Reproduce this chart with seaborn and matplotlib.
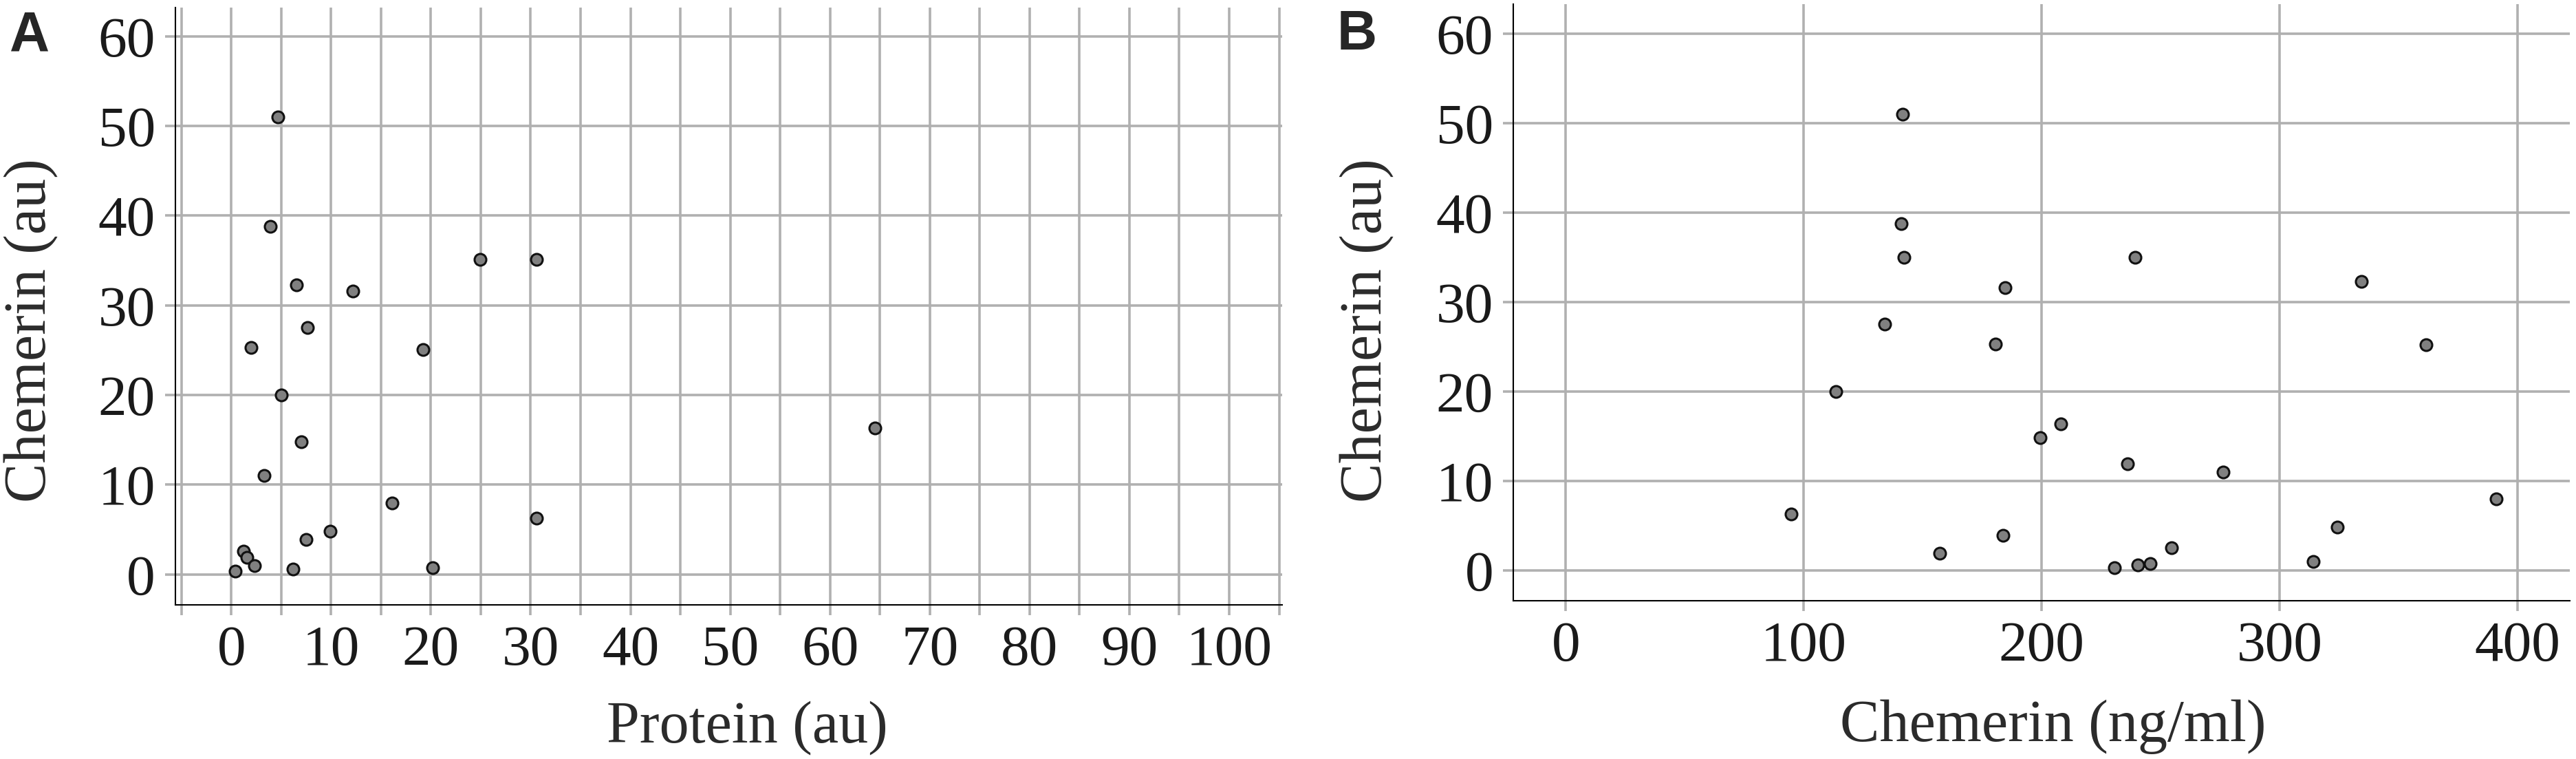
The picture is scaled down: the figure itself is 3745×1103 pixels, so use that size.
import numpy as np
import pandas as pd
import matplotlib
matplotlib.use('Agg')
import matplotlib.pyplot as plt
import seaborn as sns
from matplotlib.ticker import MultipleLocator

# Painel A: proteína (au) vs chemerin (au)
protein_au = [4.7, 3.9, 24.9, 30.6, 6.5, 12.2, 7.6, 2.0, 19.2, 5.0, 64.5, 7.0,
              3.3, 16.1, 30.6, 9.9, 7.5, 1.2, 1.6, 2.3, 0.4, 6.2, 20.2]
chemerin_au_a = [51.0, 38.8, 35.1, 35.1, 32.3, 31.6, 27.5, 25.3, 25.1, 20.0, 16.3, 14.8,
                 11.0, 7.95, 6.3, 4.8, 3.9, 2.6, 1.9, 0.95, 0.35, 0.55, 0.75]

# Painel B: chemerin (ng/ml) vs chemerin (au)
chemerin_ngml = [141.6, 141.1, 142.2, 134.1, 113.4, 94.8, 157.3, 184.6, 180.6, 183.8,
                 199.3, 208.0, 230.5, 236.1, 239.3, 240.5, 245.7, 254.5, 276.3, 314.1,
                 324.3, 334.4, 361.5, 391.0]
chemerin_au_b = [51.0, 38.8, 35.0, 27.5, 20.0, 6.3, 1.9, 31.6, 25.3, 3.9,
                 14.8, 16.35, 0.3, 11.9, 35.0, 0.6, 0.75, 2.5, 11.0, 1.0,
                 4.8, 32.3, 25.2, 8.0]

df_a = pd.DataFrame({'Protein (au)': protein_au, 'Chemerin (au)': chemerin_au_a})
df_b = pd.DataFrame({'Chemerin (ng/ml)': chemerin_ngml, 'Chemerin (au)': chemerin_au_b})

sns.set_style('white')
plt.rcParams['font.family'] = ['Liberation Serif', 'DejaVu Serif']

grid_color = '#b0b0b0'
tick_color = '#1a1a1a'
label_color = '#2b2b2b'

fig = plt.figure(figsize=(37.45, 11.03), dpi=100)
ax1 = fig.add_axes([0.0681, 0.2031, 0.4296, 0.787])
ax2 = fig.add_axes([0.5875, 0.2085, 0.4101, 0.786])

# Dispersão
sns.scatterplot(x='Protein (au)', y='Chemerin (au)', data=df_a, ax=ax1,
                s=150, color='#808080', edgecolor='#111111', linewidth=2.2, zorder=3)
sns.scatterplot(x='Chemerin (ng/ml)', y='Chemerin (au)', data=df_b, ax=ax2,
                s=150, color='#808080', edgecolor='#111111', linewidth=2.2, zorder=3)

# Eixos
ax1.set_xlim(-5.6, 105.3)
ax1.set_ylim(-3.4, 63.2)
ax1.xaxis.set_major_locator(MultipleLocator(10))
ax1.xaxis.set_minor_locator(MultipleLocator(5))
ax1.yaxis.set_major_locator(MultipleLocator(10))

ax2.set_xlim(-22, 422)
ax2.set_ylim(-3.4, 63.3)
ax2.xaxis.set_major_locator(MultipleLocator(100))
ax2.yaxis.set_major_locator(MultipleLocator(10))

for ax in [ax1, ax2]:
    ax.spines['top'].set_visible(False)
    ax.spines['right'].set_visible(False)
    ax.spines['left'].set_color('black')
    ax.spines['bottom'].set_color('black')
    ax.spines['left'].set_linewidth(1.5)
    ax.spines['bottom'].set_linewidth(1.5)
    ax.set_axisbelow(True)
    ax.grid(True, which='both', color=grid_color, linewidth=2.6)
    ax.tick_params(which='both', bottom=True, left=True, length=11, width=2.6,
                   color=grid_color, labelsize=60, labelcolor=tick_color, pad=10)
    ax.tick_params(which='minor', labelbottom=False)
    ax.set_ylabel('Chemerin (au)', fontsize=62, color=label_color)

ax1.set_xlabel('Protein (au)', fontsize=62, color=label_color)
ax2.set_xlabel('Chemerin (ng/ml)', fontsize=62, color=label_color)

ax1.xaxis.set_label_coords(0.5165, -0.160)
ax2.xaxis.set_label_coords(0.511, -0.166)
ax1.yaxis.set_label_coords(-0.1052, 0.4597)
ax2.yaxis.set_label_coords(-0.1122, 0.4533)

# Letras dos painéis
fig.text(0.0037, 0.9338, 'A', family='Liberation Sans', fontweight='bold', fontsize=58,
         ha='left', va='baseline')
fig.text(0.5191, 0.9347, 'B', family='Liberation Sans', fontweight='bold', fontsize=58,
         ha='left', va='baseline')

fig.savefig('out.png', dpi=100)
